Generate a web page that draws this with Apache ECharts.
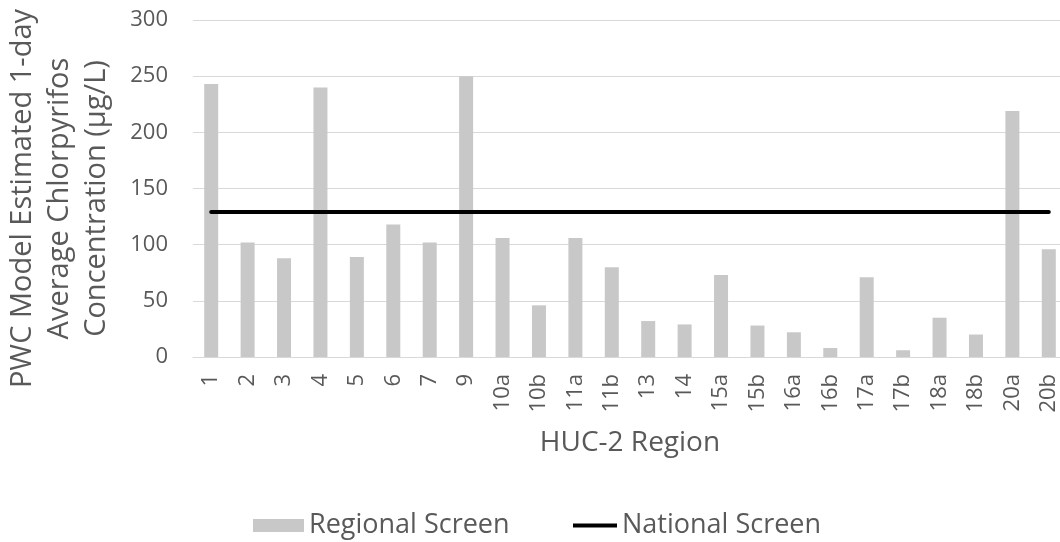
<!DOCTYPE html>
<html>
<head>
<meta charset="utf-8">
<script src="https://cdn.jsdelivr.net/npm/echarts@6/dist/echarts.min.js"></script>
<style>
html,body{margin:0;padding:0;background:#fff;}
#chart{width:1060px;height:542px;}
</style>
</head>
<body>
<div id="chart"></div>
<script>
const categories = ['1','2','3','4','5','6','7','9','10a','10b','11a','11b','13','14','15a','15b','16a','16b','17a','17b','18a','18b','20a','20b'];
const regionalScreen = [243,102,88,240,89,118,102,250,106,46,106,80,32,29,73,28,22,8,71,6,35,20,219,96];
const nationalScreenValue = 129;
const nationalScreen = categories.map(() => nationalScreenValue);
const yTicks = [0,50,100,150,200,250,300];

const FONT = '"Open Sans", "Noto Sans", sans-serif';
const GREY = '#595959';
const chart = echarts.init(document.getElementById('chart'), null, {renderer:'canvas'});
chart.setOption({
  animation: false,
  backgroundColor: '#fff',
  textStyle: {fontFamily: FONT, color: GREY},
  grid: {left: 193, right: -7, top: 20, bottom: 185, containLabel: false, outerBoundsMode: 'none'},
  legend: [
    {
      left: 248,
      top: 507,
      itemWidth: 51,
      itemHeight: 13,
      textStyle: {fontSize: 27, color: GREY, fontFamily: FONT},
      data: [{name: 'Regional Screen', icon: 'rect'}]
    },
    {
      left: 568,
      top: 507,
      itemWidth: 44,
      itemHeight: 4,
      textStyle: {fontSize: 27, color: GREY, fontFamily: FONT},
      data: [{name: 'National Screen', icon: 'rect', itemStyle: {color: '#000'}}]
    }
  ],
  xAxis: {
    type: 'category',
    data: categories,
    name: 'HUC-2 Region',
    nameLocation: 'middle',
    nameGap: 72,
    nameTextStyle: {fontSize: 28, color: GREY, fontFamily: FONT},
    axisLine: {lineStyle: {color: '#d9d9d9', width: 1}},
    axisTick: {show: false},
    axisLabel: {rotate: 90, fontSize: 22, color: GREY, margin: 17, fontFamily: FONT}
  },
  yAxis: {
    type: 'value',
    min: yTicks[0],
    max: yTicks[yTicks.length-1],
    interval: 50,
    name: 'PWC Model Estimated 1-day\nAverage Chlorpyrifos\nConcentration (µg/L)',
    nameLocation: 'middle',
    nameRotate: 90,
    nameGap: 78,
    nameTextStyle: {fontSize: 29, color: GREY, lineHeight: 37, fontFamily: FONT, align: 'center', padding: [0, 20, 0, 0]},
    axisLine: {show: false},
    axisTick: {show: false},
    splitLine: {lineStyle: {color: '#d9d9d9', width: 1}},
    axisLabel: {fontSize: 22, color: GREY, margin: 25, fontFamily: FONT}
  },
  series: [
    {
      name: 'Regional Screen',
      type: 'bar',
      data: regionalScreen,
      barWidth: 14,
      itemStyle: {color: '#c8c8c8'}
    },
    {
      name: 'National Screen',
      type: 'line',
      data: nationalScreen,
      symbol: 'none',
      lineStyle: {color: '#000', width: 4, cap: 'round'},
      itemStyle: {color: '#000'}
    }
  ]
});
</script>
</body>
</html>
